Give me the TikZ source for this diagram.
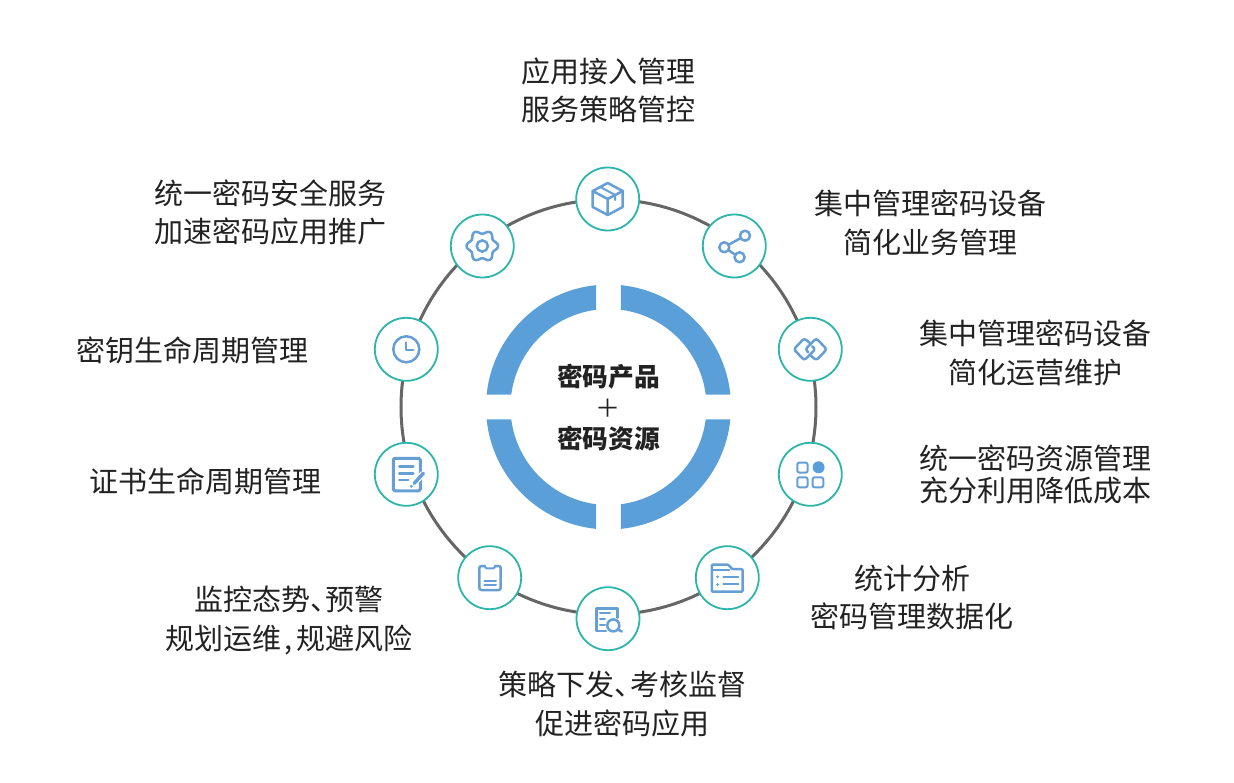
\documentclass[tikz,border=0pt]{standalone}
\usepackage{fontspec}
\setmainfont{Noto Sans CJK SC}
\usetikzlibrary{positioning,arrows.meta}
\definecolor{ringblue}{HTML}{5B9FD9}
\definecolor{iconblue}{HTML}{659FD6}
\definecolor{tealline}{HTML}{2CB5A9}
\definecolor{ringgray}{HTML}{666666}
\definecolor{inktext}{HTML}{222222}
\newcommand{\pausemark}{、\kern-14pt}
\tikzset{
  iconbox/.style={draw=tealline, line width=1.8pt, circle, fill=white, minimum size=63pt, inner sep=0pt},
  ringbox/.style={draw=ringgray, line width=3pt, circle, minimum size=415pt, inner sep=0pt},
  iconline/.style={draw=iconblue, line width=2.5pt, line join=round, line cap=round},
  thinline/.style={draw=iconblue, line width=2pt, line join=round, line cap=round},
  quarter/.style={fill=ringblue},
  itemtext/.style={font=\fontsize{29}{38.5}\selectfont, text=inktext, align=center, inner sep=0pt},
  centertext/.style={font=\fontsize{25.7}{31}\selectfont\bfseries, text=inktext, align=center, inner sep=0pt}
}

\begin{document}
\begin{tikzpicture}[x=1pt, y=1pt]
  \useasboundingbox (-608.5,-375) rectangle (625.5,407);
  \node[ringbox] (ring) at (0,0) {};
  \node[iconbox] (pkg) at (-0.8,208) {};
  \node[iconbox] (share) at (125.8,161) {};
  \node[iconbox] (link) at (201.8,57.7) {};
  \node[iconbox] (grid) at (201.8,-67.3) {};
  \node[iconbox] (folder) at (118.8,-170.7) {};
  \node[iconbox] (search) at (-0.5,-211.7) {};
  \node[iconbox] (clip) at (-118.8,-170.7) {};
  \node[iconbox] (doc) at (-202.2,-67.3) {};
  \node[iconbox] (clock) at (-202.2,57.7) {};
  \node[iconbox] (gear) at (-126.2,161) {};

  \fill[quarter] (5.76:122.5) arc[start angle=5.76, end angle=84.24, radius=122.5] -- (82.8:98) arc[start angle=82.8, end angle=7.2, radius=98] -- cycle;
  \fill[quarter] (95.76:122.5) arc[start angle=95.76, end angle=174.24, radius=122.5] -- (172.8:98) arc[start angle=172.8, end angle=97.2, radius=98] -- cycle;
  \fill[quarter] (185.76:122.5) arc[start angle=185.76, end angle=264.24, radius=122.5] -- (262.8:98) arc[start angle=262.8, end angle=187.2, radius=98] -- cycle;
  \fill[quarter] (275.76:122.5) arc[start angle=275.76, end angle=354.24, radius=122.5] -- (352.8:98) arc[start angle=352.8, end angle=277.2, radius=98] -- cycle;

  \node[centertext] (core) at (0,-0.5) {密码产品\\{\fontsize{25}{31}\selectfont\mdseries ＋}\\密码资源};

  \node[itemtext] (t1) at (0,316.5) {应用接入管理\\服务策略管控};
  \node[itemtext] (t2) at (321.5,184) {集中管理密码设备\\简化业务管理};
  \node[itemtext] (t3) at (426.5,54) {集中管理密码设备\\简化运营维护};
  \node[itemtext, font=\fontsize{29}{32}\selectfont] (t4) at (426.5,-67) {统一密码资源管理\\充分利用降低成本};
  \node[itemtext] (t5) at (303.5,-190.5) {统计分析\\密码管理数据化};
  \node[itemtext] (t6) at (14,-297) {策略下发\pausemark 考核监督\\促进密码应用};
  \node[itemtext] (t7) at (-319.5,-213.5) {监控态势\pausemark 预警\\规划运维\kern3pt,\kern3pt规避风险};
  \node[itemtext] (t8) at (-402.5,-74) {证书生命周期管理};
  \node[itemtext] (t9) at (-415.5,57) {密钥生命周期管理};
  \node[itemtext] (t10) at (-338,194.5) {统一密码安全服务\\加速密码应用推广};

  \begin{scope}[shift={(pkg.center)}]
    \draw[iconline] (0,16) -- (15,8) -- (15,-8) -- (0,-16) -- (-15,-8) -- (-15,8) -- cycle;
    \draw[iconline] (-15,8) -- (0,0) -- (15,8) (0,0) -- (0,-16);
    \draw[thinline] (-7.5,12) -- (7.5,4) -- (7.5,-1);
  \end{scope}
  \begin{scope}[shift={(gear.center)}]
    \draw[iconline] plot[domain=0:360, samples=73, smooth] (\x:{14+1.8*cos(6*\x)}) -- cycle;
    \draw[iconline] (0,0) circle[radius=5.6];
  \end{scope}
  \begin{scope}[shift={(share.center)}]
    \draw[iconline] (-10,-1.3) circle[radius=5] (10.7,10.3) circle[radius=5] (5.3,-11.3) circle[radius=5];
    \draw[iconline] (-5.7,1.2) -- (6.3,7.9) (-5.9,-4) -- (1,-8.8);
  \end{scope}
  \begin{scope}[shift={(clock.center)}]
    \draw[iconline] (0,0) circle[radius=13];
    \draw[thinline] (0,7) -- (0,-1) -- (7,-1);
  \end{scope}
  \begin{scope}[shift={(link.center)}]
    \draw[iconline, rounded corners=2.5pt] (0.5,5.5) -- (-6,11) -- (-16.5,0) -- (-6,-11) -- (5,0) -- (2,3);
    \draw[iconline, rounded corners=2.5pt] (-0.5,-5.5) -- (6,-11) -- (16.5,0) -- (6,11) -- (-5,0) -- (-2,-3);
  \end{scope}
  \begin{scope}[shift={(grid.center)}]
    \draw[thinline, rounded corners=2pt] (-13,1.7) rectangle (-2.7,11.7) (-13,-13) rectangle (-2.7,-3) (2.3,-13) rectangle (13,-3);
    \fill[ringblue] (8.3,7) circle[radius=6];
  \end{scope}
  \begin{scope}[shift={(doc.center)}]
    \draw[iconline, rounded corners=1.5pt, line width=3pt] (-13,-16.5) rectangle (14,16);
    \draw[iconline] (-7,7.6) -- (7,7.6) (-7,1) -- (7,1) (-7,-5.7) -- (2,-5.7);
    \draw[white, line width=6pt] (17,1) -- (6,-11);
    \draw[iconline, line width=3.5pt] (17,1) -- (8,-9);
    \fill[iconblue] (5,-12) circle[radius=1.6];
  \end{scope}
  \begin{scope}[shift={(folder.center)}]
    \draw[iconline, rounded corners=1pt] (-15.5,-14) -- (-15.5,13) -- (1,13) -- (5,8.5) -- (15.3,8.5) -- (15.3,-14) -- cycle;
    \draw[thinline] (-15,7.6) -- (2,7.6);
    \draw[thinline] (-4,1) -- (11,1) (-4,-6) -- (11,-6);
    \fill[iconblue] (-9.7,1) circle[radius=1.5] (-9.7,-6.7) circle[radius=1.5];
  \end{scope}
  \begin{scope}[shift={(search.center)}]
    \draw[iconline] (9.7,1) -- (9.7,10.3) -- (-11.3,10.3) -- (-11.3,-12.3) -- (-2,-12.3);
    \draw[thinline] (-8,6) -- (2,6) (-8,-0.7) -- (-3,-0.7) (-8,-6) -- (-3,-6);
    \draw[iconline] (5.3,-6.7) circle[radius=6] (9.8,-10.8) -- (13.7,-12.8);
  \end{scope}
  \begin{scope}[shift={(clip.center)}]
    \draw[iconline, rounded corners=2pt] (-5,11.7) -- (-10.3,11.7) -- (-10.3,-12.3) -- (11,-12.3) -- (11,11.7) -- (5.5,11.7);
    \draw[thinline, rounded corners=1pt] (-5,12) -- (-4,9.3) -- (4.5,9.3) -- (5.5,12);
    \draw[thinline] (-5.3,-3) -- (6.3,-3) (-5.3,-7.7) -- (6.3,-7.7);
  \end{scope}
\end{tikzpicture}
\end{document}
